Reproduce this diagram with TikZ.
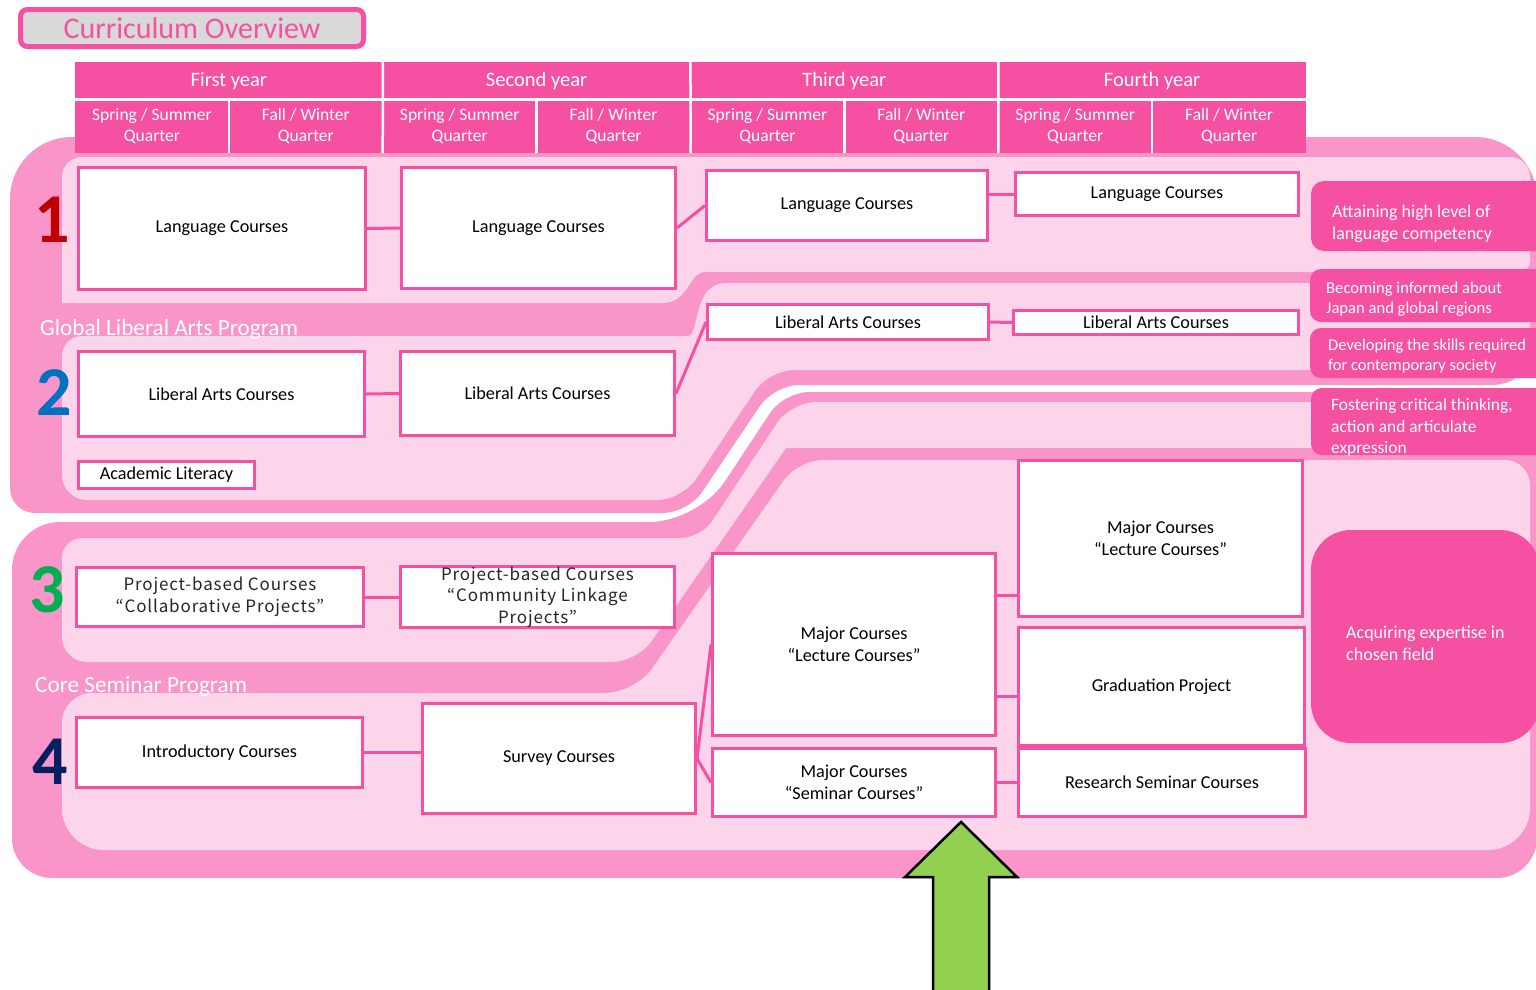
\documentclass[tikz,border=0pt]{standalone}
\usepackage{fontspec}
\setmainfont{Carlito}
\newfontfamily\projfont[LetterSpace=5]{Noto Sans CJK JP}
\usetikzlibrary{calc}
\definecolor{hot}{RGB}{246,80,162}
\definecolor{mid}{RGB}{249,149,200}
\definecolor{lite}{RGB}{253,213,235}
\definecolor{titlegray}{RGB}{217,217,217}
\definecolor{arrowgreen}{RGB}{146,208,80}
\definecolor{numred}{RGB}{192,0,0}
\definecolor{numblue}{RGB}{0,112,192}
\definecolor{numgreen}{RGB}{0,176,80}
\definecolor{numnavy}{RGB}{0,32,96}
\begin{document}
\begin{tikzpicture}[x=1pt,y=-1pt,
        course/.style={draw=hot,line width=3pt,fill=white,inner sep=0pt,align=center,font=\fontsize{18.2}{22}\selectfont},
        project/.style={course,text=black!85,font=\projfont\fontsize{17}{21.5}\selectfont},
        link/.style={draw=hot,line width=3pt},
        yearcell/.style={fill=hot,text=white,inner sep=0pt,outer sep=0pt,minimum width=307.75pt,minimum height=37.5pt,font=\fontsize{20.5}{24}\selectfont},
        quartercell/.style={fill=hot,text=white,inner sep=0pt,outer sep=0pt,align=center,minimum width=153.875pt,minimum height=53.5pt,font=\fontsize{17.5}{21}\selectfont},
        sep/.style={draw=white,line width=2.5pt},
        goal/.style={fill=hot,inner sep=0pt,rounded corners=13pt},
        goaltext/.style={text=white,align=left,inner sep=0pt,anchor=west},
        bandlabel/.style={text=white,inner sep=0pt,anchor=west,font=\fontsize{23.2}{26}\selectfont},
        rownum/.style={inner sep=0pt,font=\fontsize{70}{70}\selectfont\bfseries}]
        \useasboundingbox (0,0) rectangle (1536,989);
        \clip (0,0) rectangle (1536,989);
        \fill[white] (0,0) rectangle (1536,989);
        % program bands
        \fill[mid] (10,330) [rounded corners=62] -- (10,137) -- (1537,137) [rounded corners=45] -- (1537,385) [rounded corners=25] -- (774,385) -- (688,513) -- (10,513) [rounded corners=62] -- cycle;
        \fill[mid] (12,700) [rounded corners=48] -- (12,522) -- (698,522) [rounded corners=25] -- (784,392) -- (1537,392) [rounded corners=40] -- (1537,878) -- (12,878) [rounded corners=52] -- cycle;
        \fill[lite] (62,230) [rounded corners=20] -- (62,157) -- (1530,157) [rounded corners=10] -- (1530,272) -- (715,272) [sharp corners] .. controls (688,272) and (690,303) .. (662,303) -- (62,303) [rounded corners=20] -- cycle;
        \fill[lite] (62,420) [rounded corners=20] -- (62,336) -- (668,336) [sharp corners] .. controls (700,336) and (692,283) .. (726,283) -- (1530,283) [rounded corners=10] -- (1530,370) [rounded corners=25] -- (769,370) -- (682,500) -- (62,500) [rounded corners=35] -- cycle;
        \fill[lite] (62,600) [rounded corners=20] -- (62,538) -- (701,538) [rounded corners=25] -- (791,402) -- (1530,402) [sharp corners] -- (1530,448) -- (786,448) [rounded corners=25] -- (637,662) -- (62,662) [rounded corners=20] -- cycle;
        \fill[lite] (62,770) [rounded corners=30] -- (62,693) -- (635,693) [rounded corners=25] -- (798,460) -- (1530,460) [rounded corners=42] -- (1530,850) -- (62,850) [rounded corners=45] -- cycle;
        \node[bandlabel] (glap) at (40,329) {Global Liberal Arts Program};
        \node[bandlabel] (csp) at (35,686) {Core Seminar Program};
        % header
        \node[yearcell] (Y1) at (228.9,80.75) {First year};
        \node[yearcell] (Y2) at (536.6,80.75) {Second year};
        \node[yearcell] (Y3) at (844.4,80.75) {Third year};
        \node[yearcell] (Y4) at (1152.1,80.75) {Fourth year};
        \node[quartercell] (Q1) at (151.9,126.25) {Spring / Summer\\Quarter};
        \node[quartercell] (Q2) at (305.8,126.25) {Fall / Winter\\Quarter};
        \node[quartercell] (Q3) at (459.7,126.25) {Spring / Summer\\Quarter};
        \node[quartercell] (Q4) at (613.6,126.25) {Fall / Winter\\Quarter};
        \node[quartercell] (Q5) at (767.4,126.25) {Spring / Summer\\Quarter};
        \node[quartercell] (Q6) at (921.3,126.25) {Fall / Winter\\Quarter};
        \node[quartercell] (Q7) at (1075.2,126.25) {Spring / Summer\\Quarter};
        \node[quartercell] (Q8) at (1229.1,126.25) {Fall / Winter\\Quarter};
        \draw[sep] (Y1.south west) -- (Y4.south east);
        \draw[sep] (Y1.north east) -- (Q2.south east);
        \draw[sep] (Y2.north east) -- (Q4.south east);
        \draw[sep] (Y3.north east) -- (Q6.south east);
        \draw[sep] (Q1.north east) -- (Q1.south east);
        \draw[sep] (Q3.north east) -- (Q3.south east);
        \draw[sep] (Q5.north east) -- (Q5.south east);
        \draw[sep] (Q7.north east) -- (Q7.south east);
        % goals
        \node[goal,minimum width=249,minimum height=70] (G1) at (1435.5,216) {};
        \node[goal,minimum width=250,minimum height=53,rounded corners=11pt] (G2) at (1435,295.5) {};
        \node[goal,minimum width=250,minimum height=50,rounded corners=11pt] (G3) at (1435,353) {};
        \node[goal,minimum width=249,minimum height=67,rounded corners=11pt] (G4) at (1435.5,421.5) {};
        \node[goal,minimum width=229,minimum height=213,rounded corners=40pt] (G5) at (1425.5,636.5) {};
        \node[goaltext,font=\fontsize{18}{22}\selectfont] (G1t) at (1332,224) {Attaining high level of\\language competency};
        \node[goaltext,font=\fontsize{16.6}{20}\selectfont] (G2t) at (1326,299.5) {Becoming informed about\\Japan and global regions};
        \node[goaltext,font=\fontsize{16.5}{20}\selectfont] (G3t) at (1328,356.5) {Developing the skills required\\for contemporary society};
        \node[goaltext,font=\fontsize{17.4}{21.5}\selectfont] (G4t) at (1331,427.5) {Fostering critical thinking,\\action and articulate\\expression};
        \node[goaltext,font=\fontsize{18}{22}\selectfont] (G5t) at (1346,643) {Acquiring expertise in\\chosen field};
        % courses
        \node[course,minimum width=287,minimum height=122] (L1a) at (222,228.5) {Language Courses};
        \node[course,minimum width=274,minimum height=121] (L1b) at (538.5,228) {Language Courses};
        \node[course,minimum width=281,minimum height=70] (L1c) at (847,205.5) {Language Courses};
        \node[course,minimum width=283,minimum height=43] (L1d) at (1157,194) {Language Courses};
        \node[course,minimum width=286,minimum height=85] (LA1) at (221.5,394) {Liberal Arts Courses};
        \node[course,minimum width=274,minimum height=84] (LA2) at (537.5,393.5) {Liberal Arts Courses};
        \node[course,minimum width=281,minimum height=35] (LA3) at (848,322) {Liberal Arts Courses};
        \node[course,minimum width=285,minimum height=24] (LA4) at (1156,322.5) {Liberal Arts Courses};
        \node[course,minimum width=176,minimum height=27] (AL) at (166.5,475) {Academic Literacy};
        \node[project,minimum width=287,minimum height=59] (P1) at (220,597) {Project-based Courses\\“Collaborative Projects”};
        \node[project,minimum width=274,minimum height=61] (P2) at (537.5,597) {Project-based Courses\\“Community Linkage\\Projects”};
        \node[course,minimum width=286,minimum height=70] (I1) at (219.5,752.5) {Introductory Courses};
        \node[course,minimum width=273,minimum height=110] (S1) at (559,758.5) {Survey Courses};
        \node[course,minimum width=283,minimum height=182] (M1) at (854,644.5) {Major Courses\\“Lecture Courses”};
        \node[course,minimum width=283,minimum height=68] (M2) at (854,782.5) {Major Courses\\“Seminar Courses”};
        \node[course,minimum width=284,minimum height=156] (M3) at (1160.5,538.5) {Major Courses\\“Lecture Courses”};
        \node[course,minimum width=286,minimum height=118] (GP) at (1161.5,686.5) {Graduation Project};
        \node[course,minimum width=287,minimum height=68] (RS) at (1162,782.5) {Research Seminar Courses};
        \coordinate (m3in) at ($(M3.west)+(0,57)$);
        \coordinate (gpin) at ($(GP.west)+(0,9.5)$);
        \draw[link] (L1a.east) -- (L1b.west);
        \draw[link] (L1b.east) -- (L1c.west);
        \draw[link] (L1d.west -| L1c.east) -- (L1d.west);
        \draw[link] (LA1.east) -- (LA2.west);
        \draw[link] (LA2.east) -- (LA3.west);
        \draw[link] (LA3.east) -- (LA4.west);
        \draw[link] (P1.east) -- (P2.west);
        \draw[link] (I1.east) -- (I1.east -| S1.west);
        \draw[link] (S1.east) -- (M1.west);
        \draw[link] (S1.east) -- (M2.west);
        \draw[link] (m3in -| M1.east) -- (m3in);
        \draw[link] (gpin -| M1.east) -- (gpin);
        \draw[link] (M2.east) -- (RS.west);
        % row numbers
        \node[rownum,text=numred] (n1) at (52,220) {1};
        \node[rownum,text=numblue] (n2) at (54,393) {2};
        \node[rownum,text=numgreen] (n3) at (47,590) {3};
        \node[rownum,text=numnavy] (n4) at (50,762) {4};
        % title and arrow
        \node[draw=hot,line width=5pt,fill=titlegray,rounded corners=7pt,minimum width=343,minimum height=37,inner sep=0pt,text=hot,font=\fontsize{30}{31}\selectfont] (title) at (192,28) {Curriculum Overview};
        \draw[line width=2.5pt,fill=arrowgreen,line join=miter] (961,822) -- (1017,877) -- (989,877) -- (989,995) -- (933,995) -- (933,877) -- (905,877) -- cycle;
\end{tikzpicture}
\end{document}
